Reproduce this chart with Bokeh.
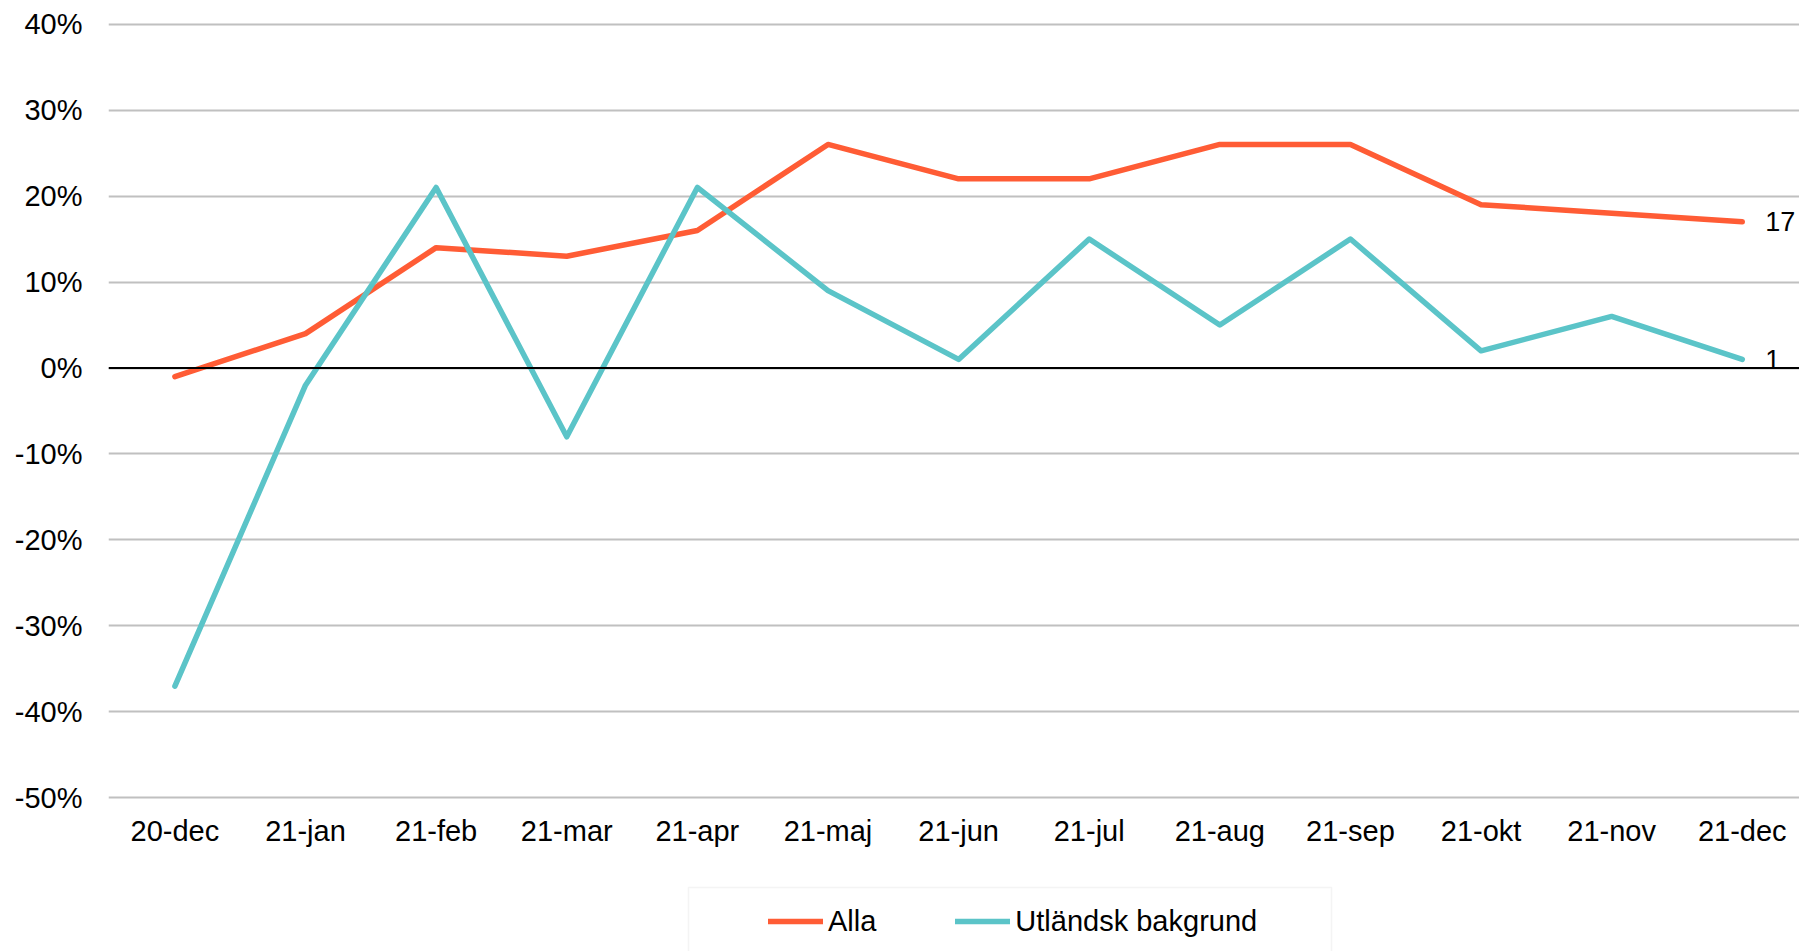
from bokeh.plotting import figure
from bokeh.embed import file_html
from bokeh.resources import INLINE
from bokeh.layouts import column
from bokeh.models import (ColumnDataSource, FixedTicker, PrintfTickFormatter, Span,
                          Legend, LegendItem, Range1d, BoxAnnotation)
from bokeh.core.properties import value

months = ["20-dec", "21-jan", "21-feb", "21-mar", "21-apr", "21-maj", "21-jun",
          "21-jul", "21-aug", "21-sep", "21-okt", "21-nov", "21-dec"]
alla = [-1, 4, 14, 13, 16, 26, 22, 22, 26, 26, 19, 18, 17]
utlandsk = [-37, -2, 21, -8, 21, 9, 1, 15, 5, 15, 2, 6, 1]
yticks = [-50, -40, -30, -20, -10, 0, 10, 20, 30, 40]
series_names = ["Alla", "Utländsk bakgrund"]

FONT = "Liberation Sans"
ORANGE = "#FF5C35"
TEAL = "#5BC4C8"
FS = "29px"
LW = 5.5

idx = list(range(len(months)))

p = figure(width=1799, height=870, output_backend="svg", toolbar_location=None,
           x_range=Range1d(-0.5084, 12.438), y_range=Range1d(-50.3, 40.3),
           min_border_left=108, min_border_right=0, min_border_top=21, min_border_bottom=70)
p.outline_line_color = None
p.background_fill_color = "white"
p.border_fill_color = "white"

p.xaxis.ticker = FixedTicker(ticks=idx)
p.xaxis.major_label_overrides = {i: m for i, m in zip(idx, months)}
p.yaxis.ticker = FixedTicker(ticks=yticks)
p.yaxis.formatter = PrintfTickFormatter(format="%d%%")
for ax in (p.xaxis[0], p.yaxis[0]):
    ax.axis_line_color = None
    ax.major_tick_line_color = None
    ax.minor_tick_line_color = None
    ax.major_tick_in = 0
    ax.major_tick_out = 0
    ax.major_label_text_font = FONT
    ax.major_label_text_font_size = FS
    ax.major_label_text_color = "black"
p.yaxis.major_label_standoff = 26
p.xaxis.major_label_standoff = 14

p.xgrid.grid_line_color = None
p.ygrid.ticker = FixedTicker(ticks=yticks)
p.ygrid.grid_line_color = "#C0C0C0"
p.ygrid.grid_line_width = 2

p.add_layout(Span(location=0, dimension="width", line_color="black", line_width=2))

src = ColumnDataSource(dict(x=idx, alla=alla, utl=utlandsk))
p.line("x", "alla", source=src, line_color=ORANGE, line_width=LW, line_cap="round", line_join="round")
p.line("x", "utl", source=src, line_color=TEAL, line_width=LW, line_cap="round", line_join="round")

lab = ColumnDataSource(dict(x=[idx[-1], idx[-1]], y=[alla[-1], utlandsk[-1]],
                            t=[str(alla[-1]), str(utlandsk[-1])]))
p.text("x", "y", text="t", source=lab, x_offset=23, text_baseline="middle", text_align="left",
       text_font=value(FONT), text_font_size="27px", text_color="black")

# legend strip below the chart (its frame is aligned with the chart frame: 108..1799 px)
q = figure(width=1799, height=81, output_backend="svg", toolbar_location=None,
           x_range=Range1d(108, 1799), y_range=Range1d(81, 0),
           min_border_left=108, min_border_right=0, min_border_top=0, min_border_bottom=0)
q.axis.visible = False
q.grid.visible = False
q.outline_line_color = None
q.background_fill_color = "white"
q.border_fill_color = "white"

nan = float("nan")
l1 = q.line(x=[nan, nan], y=[nan, nan], line_color=ORANGE, line_width=LW, line_cap="round")
l2 = q.line(x=[nan, nan], y=[nan, nan], line_color=TEAL, line_width=LW, line_cap="round")

box = BoxAnnotation(left=688, right=1331, top=17, bottom=100,
                    fill_alpha=0, line_color="#D9D9D9", line_width=1.5)
q.add_layout(box)

legend = Legend(items=[LegendItem(label=series_names[0], renderers=[l1]),
                       LegendItem(label=series_names[1], renderers=[l2])],
                orientation="horizontal", location=(660, 13),
                padding=0, spacing=79, glyph_width=55, glyph_height=34, label_height=34,
                label_standoff=5, border_line_color=None, background_fill_alpha=0,
                label_text_font=FONT, label_text_font_size=FS, label_text_color="black",
                margin=0)
q.add_layout(legend, "center")

layout = column(p, q, spacing=0)
open("out.html", "w").write(file_html(layout, INLINE))
